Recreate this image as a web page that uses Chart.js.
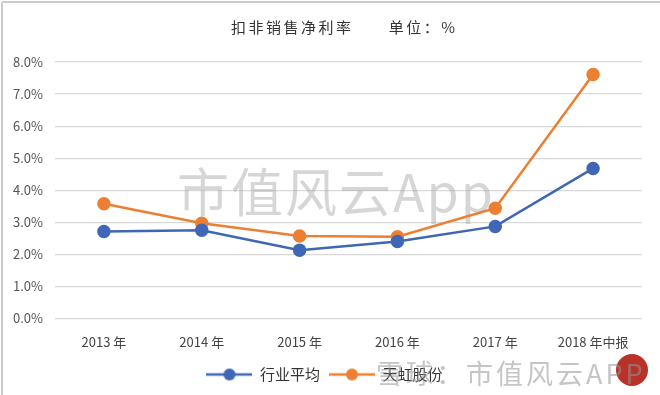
<!DOCTYPE html>
<html>
<head>
<meta charset="utf-8">
<script src="https://cdn.jsdelivr.net/npm/chart.js@4"></script>
<style>
  body{margin:0;background:#fff;}
  #wrap{width:660px;height:395px;position:relative;}
</style>
</head>
<body>
<div id="wrap"><canvas id="grafico" width="660" height="395"></canvas></div>
<script>
// datos
var anios = ["2013 年", "2014 年", "2015 年", "2016 年", "2017 年", "2018 年中报"];
var promedio = [2.71, 2.75, 2.13, 2.40, 2.87, 4.68];
var empresa = [3.58, 2.97, 2.57, 2.55, 3.44, 7.61];
var nombres = ["行业平均", "天虹股份"];
var ticksY = [0, 1, 2, 3, 4, 5, 6, 7, 8];
var titulo = "扣非销售净利率      单位：%";

var azul = "#3f67b5";
var naranja = "#ec7f32";
var fuente = "'Noto Sans CJK SC', 'DejaVu Sans', sans-serif";

// icono de leyenda: linea con circulo
function icono(color){
    var cv = document.createElement("canvas");
    cv.width = 46; cv.height = 14;
    var c = cv.getContext("2d");
    c.strokeStyle = color;
    c.lineWidth = 2.5;
    c.beginPath(); c.moveTo(0, 7); c.lineTo(46, 7); c.stroke();
    c.fillStyle = color;
    c.beginPath(); c.arc(23, 7, 6, 0, Math.PI*2); c.fill();
    return cv;
}

// titulo y marcas de agua
var marca = {
    id: "marca",
    beforeDatasetsDraw: function(chart){
        var c = chart.ctx;
        c.save();
        c.font = "52px " + fuente;
        c.fillStyle = "rgba(165,165,165,0.45)";
        c.textBaseline = "middle";
        c.letterSpacing = "2px";
        c.fillText("市值风云App", 177, 192);
        c.restore();
    },
    afterDraw: function(chart){
        var c = chart.ctx;
        c.save();
        c.font = "15px " + fuente;
        c.fillStyle = "#333";
        c.textBaseline = "middle";
        c.letterSpacing = "2.5px";
        c.fillText(titulo, 231, 27);
        c.fillStyle = "#b8322a";
        c.beginPath();
        c.arc(632, 370, 16, 0, Math.PI*2);
        c.fill();
        c.font = "27px " + fuente;
        c.fillStyle = "rgba(150,150,150,0.55)";
        c.letterSpacing = "3px";
        c.fillText("雪球：市值风云APP", 376, 374);
        c.strokeStyle = "#ccc";
        c.lineWidth = 2;
        c.beginPath();
        c.moveTo(2, 2); c.lineTo(660, 2);
        c.moveTo(2, 2); c.lineTo(2, 395);
        c.stroke();
        c.restore();
    }
};

var ctx = document.getElementById("grafico").getContext("2d");
var chart = new Chart(ctx, {
    type: "line",
    data: {
        labels: anios,
        datasets: [
            {label: nombres[0], data: promedio, borderColor: azul, backgroundColor: azul,
             borderWidth: 2.5, pointRadius: 5.5, pointHoverRadius: 5.5, tension: 0,
             pointStyle: "circle"},
            {label: nombres[1], data: empresa, borderColor: naranja, backgroundColor: naranja,
             borderWidth: 2.5, pointRadius: 5.5, pointHoverRadius: 5.5, tension: 0,
             pointStyle: "circle"}
        ]
    },
    options: {
        responsive: false,
        animation: false,
        devicePixelRatio: 1,
        layout: {padding: {left: 7, right: 18, top: 62, bottom: 3}},
        plugins: {
            legend: {
                position: "bottom",
                labels: {
                    usePointStyle: true,
                    pointStyleWidth: 46,
                    boxHeight: 14,
                    color: "#333",
                    font: {family: fuente, size: 15},
                    padding: 9,
                    generateLabels: function(ch){
                        return ch.data.datasets.map(function(ds, i){
                            return {text: ds.label, pointStyle: icono(ds.borderColor),
                                    fillStyle: ds.borderColor, strokeStyle: ds.borderColor,
                                    lineWidth: 0, fontColor: "#333", datasetIndex: i};
                        });
                    }
                }
            },
            tooltip: {enabled: false}
        },
        scales: {
            x: {
                offset: true,
                grid: {display: false},
                border: {display: false},
                ticks: {color: "#444", font: {family: fuente, size: 13}, padding: 8, maxRotation: 0}
            },
            y: {
                min: 0, max: 8,
                afterBuildTicks: function(axis){
                    axis.ticks = ticksY.map(function(v){ return {value: v}; });
                },
                afterFit: function(axis){ axis.width = 48; },
                grid: {color: "#d9d9d9", lineWidth: 1.2, drawTicks: false},
                border: {display: false},
                ticks: {
                    color: "#555",
                    padding: 12,
                    font: {family: fuente, size: 13},
                    callback: function(v){ return v.toFixed(1) + "%"; }
                }
            }
        }
    },
    plugins: [marca]
});
</script>
</body>
</html>
